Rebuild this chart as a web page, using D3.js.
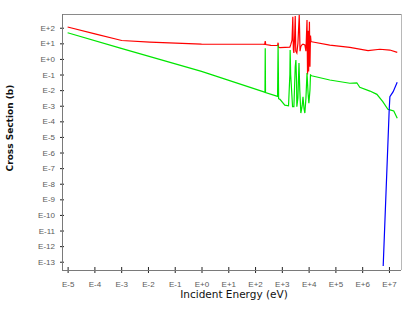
<!DOCTYPE html>
<html>
<head>
<meta charset="utf-8">
<script src="https://cdn.jsdelivr.net/npm/d3@7"></script>
<style>
  body { margin: 0; background: #fff; }
  svg { display: block; font-family: "DejaVu Sans", Verdana, sans-serif; }
  .axis path { display: none; }
  .axis text { fill: #5a5a5a; font-size: 8px; }
  .axis line { stroke: #222; }
</style>
</head>
<body>
<svg width="415" height="312"></svg>
<script>
// values, as log10 of energy (eV) and cross section (b)
var totalLogE = [-5, -3.98, -2.98, -1.93, 0, 2.29, 2.36, 2.38, 2.40, 2.59, 2.84, 2.86, 2.88, 2.93, 3.30,
  3.33, 3.38, 3.41, 3.43, 3.45, 3.48, 3.50, 3.52, 3.56, 3.60, 3.65, 3.68, 3.71, 3.75, 3.79, 3.86, 3.90,
  3.94, 3.96, 3.98, 4.00, 4.03, 4.05, 4.07, 4.09, 4.11, 4.79, 5.54, 6.22, 6.66, 7.035, 7.31];
var totalLogXS = [2.045, 1.61, 1.18, 1.08, 0.955, 0.94, 0.93, 1.15, 0.92, 0.87, 0.86, 1.04, 0.75, 0.72, 0.76,
  0.9, 1.2, 2.71, 0.6, 0.38, 1.5, 2.75, 0.5, 0.38, 1.0, 2.81, 0.5, 0.8, 0.9, 0.95, 0.9, 0.5,
  2.49, -1.0, 1.8, -0.8, 2.38, -0.5, 1.5, 1.1, 1.10, 0.89, 0.74, 0.53, 0.62, 0.57, 0.42];

var captureLogE = [-5, -3, 0, 2.30, 2.37, 2.38, 2.39, 2.84, 2.86, 2.88, 2.93, 3.11, 3.25, 3.30, 3.31, 3.33,
  3.40, 3.45, 3.50, 3.525, 3.55, 3.56, 3.60, 3.64, 3.67, 3.71, 3.76, 3.79, 3.83, 3.86, 3.90, 3.94,
  3.98, 4.01, 4.05, 4.07, 4.11, 4.79, 5.54, 5.80, 5.91, 6.29, 6.55, 6.77, 6.96, 7.07, 7.18, 7.31];
var captureLogXS = [1.68, 0.68, -0.80, -2.10, -2.14, 0.68, -2.16, -2.4, 0.89, -2.55, -2.59, -2.96, -3.0, -1.0, 0.57, -1.0,
  -3.06, -3.06, -0.5, -0.07, -1.5, -3.06, -2.5, -0.26, -2.0, -3.47, -3.0, -2.42, -3.2, -3.47, -2.5, -0.90,
  -2.2, -2.83, -2.0, -1.03, -1.08, -1.35, -1.56, -1.53, -1.82, -2.06, -2.27, -2.74, -3.23, -3.28, -3.34, -3.81];

var thresholdLogE = [6.785, 7.009, 7.035, 7.158, 7.308];
var thresholdLogXS = [-13.28, -3.28, -2.42, -2.10, -1.50];

var xTickExp = [-5, -4, -3, -2, -1, 0, 1, 2, 3, 4, 5, 6, 7];
var xTickLabels = ["E-5", "E-4", "E-3", "E-2", "E-1", "E+0", "E+1", "E+2", "E+3", "E+4", "E+5", "E+6", "E+7"];
var yTickExp = [2, 1, 0, -1, -2, -3, -4, -5, -6, -7, -8, -9, -10, -11, -12, -13];
var yTickLabels = ["E+2", "E+1", "E+0", "E-1", "E-2", "E-3", "E-4", "E-5", "E-6", "E-7", "E-8", "E-9",
  "E-10", "E-11", "E-12", "E-13"];

var series = [
  { logE: totalLogE, logXS: totalLogXS, color: "#ff0000" },
  { logE: captureLogE, logXS: captureLogXS, color: "#00e600" },
  { logE: thresholdLogE, logXS: thresholdLogXS, color: "#0000ff" }
];

main();

function main() {
  var svg = d3.select("svg"),
    left = 62, right = 401, top = 14, bottom = 270;

  var x = d3.scaleLog()
    .domain([Math.pow(10, -5.21), Math.pow(10, 7.45)])
    .range([left, right]);
  var y = d3.scaleLog()
    .domain([Math.pow(10, -13.53), Math.pow(10, 2.88)])
    .range([bottom, top]);

  svg.append("clipPath").attr("id", "plot")
    .append("rect")
    .attr("x", left).attr("y", top)
    .attr("width", right - left).attr("height", bottom - top);

  // frame
  svg.append("line").attr("x1", left).attr("x2", right).attr("y1", top + 0.5).attr("y2", top + 0.5)
    .attr("stroke", "#8a8a8a");
  svg.append("line").attr("x1", right + 0.5).attr("x2", right + 0.5).attr("y1", top).attr("y2", bottom)
    .attr("stroke", "#b8b8b8");

  var line = d3.line()
    .x(function(d) { return x(Math.pow(10, d[0])); })
    .y(function(d) { return y(Math.pow(10, d[1])); });

  var g = svg.append("g").attr("clip-path", "url(#plot)");
  series.forEach(function(s) {
    var pts = s.logE.map(function(e, i) { return [e, s.logXS[i]]; });
    g.append("path")
      .datum(pts)
      .attr("fill", "none")
      .attr("stroke", s.color)
      .attr("stroke-width", 1.2)
      .attr("d", line);
  });

  // axes
  var xAxis = svg.append("g")
    .attr("class", "axis")
    .attr("transform", "translate(0," + bottom + ")")
    .call(d3.axisBottom(x)
      .tickValues(xTickExp.map(function(e) { return Math.pow(10, e); }))
      .tickFormat(function(d, i) { return xTickLabels[i]; })
      .tickSize(3)
      .tickPadding(8));
  xAxis.selectAll(".tick line").attr("y1", -3).attr("y2", 3);

  var yAxis = svg.append("g")
    .attr("class", "axis")
    .attr("transform", "translate(" + left + ",0)")
    .call(d3.axisLeft(y)
      .tickValues(yTickExp.map(function(e) { return Math.pow(10, e); }))
      .tickFormat(function(d, i) { return yTickLabels[i]; })
      .tickSize(2)
      .tickPadding(5));
  yAxis.selectAll(".tick line").attr("x1", -2).attr("x2", 2);

  svg.append("line").attr("x1", left + 0.5).attr("x2", left + 0.5).attr("y1", top).attr("y2", bottom)
    .attr("stroke", "#7a7a7a");
  svg.append("line").attr("x1", left).attr("x2", right).attr("y1", bottom + 0.5).attr("y2", bottom + 0.5)
    .attr("stroke", "#7a7a7a");

  svg.append("text")
    .attr("x", 234)
    .attr("y", 298)
    .attr("text-anchor", "middle")
    .style("font-size", "10.5px")
    .style("fill", "#111")
    .text("Incident Energy (eV)");

  svg.append("text")
    .attr("transform", "translate(13,128) rotate(-90)")
    .attr("text-anchor", "middle")
    .style("font-size", "9px")
    .style("font-weight", "bold")
    .style("fill", "#111")
    .text("Cross Section (b)");
}
</script>
</body>
</html>
